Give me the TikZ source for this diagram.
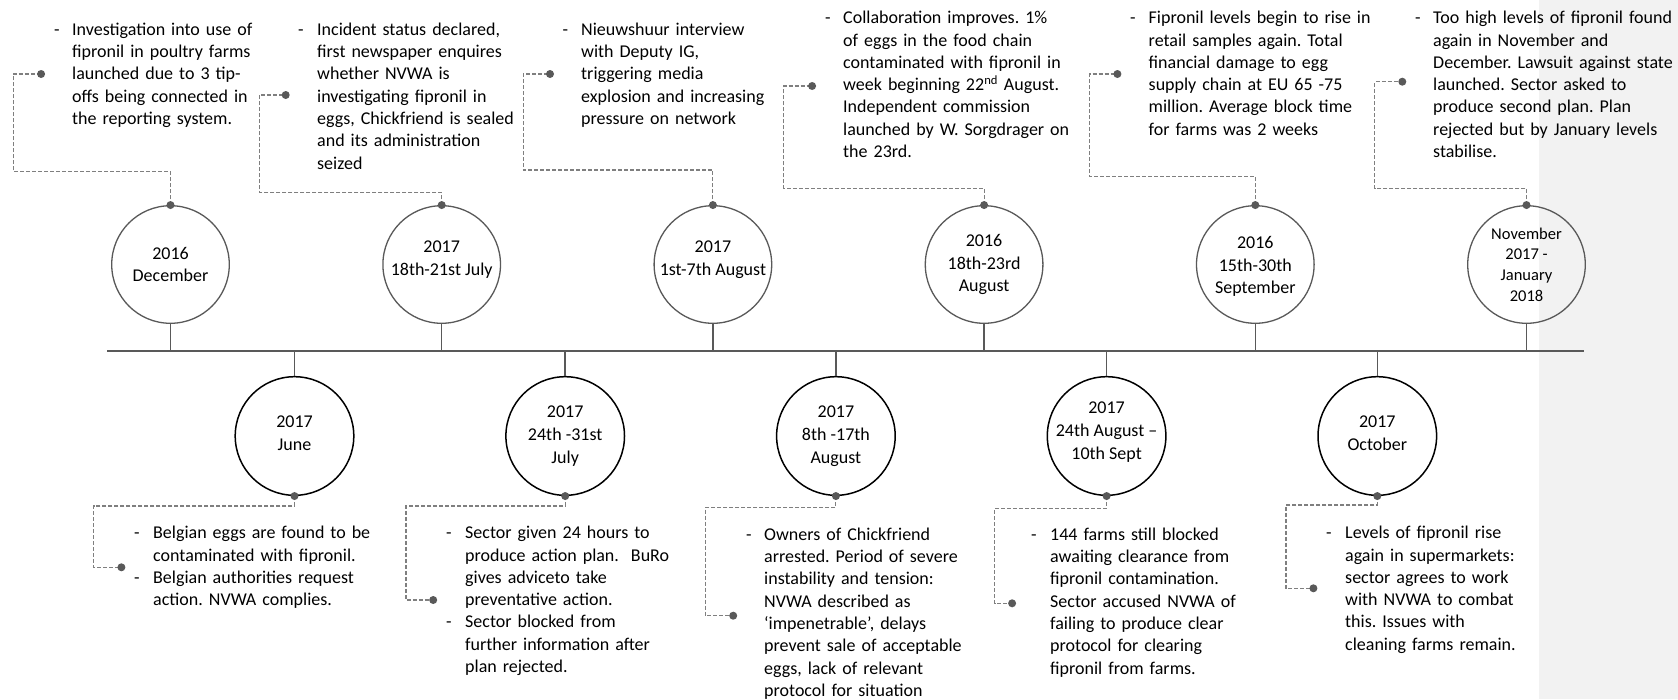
\documentclass[tikz,border=0pt]{standalone}
\usepackage{fontspec}
\setmainfont{Carlito}
\frenchspacing
\definecolor{linegray}{HTML}{595959}
\definecolor{dashgray}{HTML}{7F7F7F}
\definecolor{panelgray}{HTML}{F2F2F2}
\newcommand\firstlinestrut{\rule{0pt}{15pt}}
\tikzset{
  topcirc/.style={circle, draw=linegray, line width=1.3pt, minimum size=117.6pt, inner sep=0pt},
  botcirc/.style={circle, draw=black, line width=1.5pt, minimum size=118.6pt, inner sep=0pt},
  datetxt/.style={align=center, inner sep=0pt, font=\fontsize{18}{22.8}\selectfont},
  notetxt/.style={anchor=north west, align=left, text width=320pt, inner sep=0pt,
                  font=\fontsize{18}{22.3}\selectfont},
  dashmark/.style={anchor=base west, inner sep=0pt, font=\fontsize{18}{22.3}\selectfont},
  connector/.style={draw=dashgray, line width=1.1pt, dash pattern=on 4pt off 2pt},
  timeline/.style={draw=linegray, line width=2pt},
  stemline/.style={draw=linegray, line width=1.5pt},
  enddot/.style={fill=linegray}
}
\begin{document}
\begin{tikzpicture}[x=1pt,y=-1pt]
\useasboundingbox (0,0) rectangle (1678,699);
\fill[white] (0,0) rectangle (1678,699);
\fill[panelgray] (1539,0) rectangle (1678,699);

% main time axis
\coordinate (axL) at (107.3,350.7);
\coordinate (axR) at (1584.3,350.7);
\draw[timeline] (axL) -- (axR);

% events above the axis
\node[topcirc] (c1) at (170.5,264.5) {};
\node[topcirc] (c2) at (441.7,264.5) {};
\node[topcirc] (c3) at (712.9,264.5) {};
\node[topcirc] (c4) at (984.1,264.5) {};
\node[topcirc] (c5) at (1255.3,264.5) {};
\node[topcirc] (c6) at (1526.5,264.5) {};
\node[datetxt] (c1t) at (c1) {2016\\December};
\node[datetxt, yshift=5pt] (c2t) at (c2) {2017\\18th-21st July};
\node[datetxt, yshift=5pt] (c3t) at (c3) {2017\\1st-7th August};
\node[datetxt] (c4t) at (c4) {2016\\18th-23rd\\August};
\node[datetxt, yshift=-2pt] (c5t) at (c5) {2016\\15th-30th\\September};
\node[datetxt, font=\fontsize{16.5}{20.6}\selectfont] (c6t) at (c6) {November\\2017 -\\January\\2018};
\foreach \n in {1,...,6} \draw[stemline] (c\n.south) -- (c\n.south |- axL);

% events below the axis
\node[botcirc] (d1) at (294.5,436) {};
\node[botcirc] (d2) at (565.2,436) {};
\node[botcirc] (d3) at (835.9,436) {};
\node[botcirc] (d4) at (1106.6,436) {};
\node[botcirc] (d5) at (1377.3,436) {};
\node[datetxt, yshift=3pt] (d1t) at (d1) {2017\\June};
\node[datetxt] (d2t) at (d2) {2017\\24th -31st\\July};
\node[datetxt] (d3t) at (d3) {2017\\8th -17th\\August};
\node[datetxt, yshift=4pt] (d4t) at (d4) {2017\\24th August --\\10th Sept};
\node[datetxt, yshift=3pt] (d5t) at (d5) {2017\\October};
\foreach \n in {1,...,5} \draw[stemline] (d\n.north |- axL) -- (d\n.north);

% connector corners and free ends, upper notes
\coordinate (k1) at (13.2,171.7);   \coordinate (e1) at (41.1,74);
\coordinate (k2) at (259.6,192.3);  \coordinate (e2) at (285.7,95);
\coordinate (k3) at (523.2,170);    \coordinate (e3) at (550,74);
\coordinate (k4) at (783.9,188.3);  \coordinate (e4) at (812.1,86);
\coordinate (k5) at (1089.5,176.7); \coordinate (e5) at (1117.4,74);
\coordinate (k6) at (1374.8,188.3); \coordinate (e6) at (1402.3,81.7);
\foreach \n in {1,...,6} {
  \draw[connector] (c\n.north) |- (k\n) |- (e\n);
  \fill[enddot] (c\n.north) circle (4pt);
  \fill[enddot] (e\n) circle (4pt);
}

% connector corners and free ends, lower notes
\coordinate (m1) at (93.6,506);    \coordinate (f1) at (121.4,567.3);
\coordinate (m2) at (406,506);     \coordinate (f2) at (433.2,600);
\coordinate (m3) at (705.4,507.3); \coordinate (f3) at (733.2,615.7);
\coordinate (m4) at (994.6,508.3); \coordinate (f4) at (1012.1,603.3);
\coordinate (m5) at (1286,505);    \coordinate (f5) at (1313.4,588.3);
\foreach \n in {1,...,5} {
  \draw[connector] (d\n.south) |- (m\n) |- (f\n);
  \fill[enddot] (d\n.south) circle (4pt);
  \fill[enddot] (f\n) circle (4pt);
}

% upper notes
\node[dashmark] (t1d) at (54,35) {-};
\node[notetxt] (t1) at (72,20) {\firstlinestrut Investigation into use of\\fipronil in poultry farms\\launched due to 3 tip-\\offs being connected in\\the reporting system.};
\node[dashmark] (t2d) at (298,35) {-};
\node[notetxt] (t2) at (317,20) {\firstlinestrut Incident status declared,\\first newspaper enquires\\whether NVWA is\\investigating fipronil in\\eggs, Chickfriend is sealed\\and its administration\\seized};
\node[dashmark] (t3d) at (562.5,35) {-};
\node[notetxt] (t3) at (581,20) {\firstlinestrut Nieuwshuur interview\\with Deputy IG,\\triggering media\\explosion and increasing\\pressure on network};
\node[dashmark] (t4d) at (825,23.5) {-};
\node[notetxt] (t4) at (843,8.5) {\firstlinestrut Collaboration improves. 1\%\\of eggs in the food chain\\contaminated with fipronil in\\week beginning 22\textsuperscript{nd} August.\\Independent commission\\launched by W. Sorgdrager on\\the 23rd.};
\node[dashmark] (t5d) at (1130,23.5) {-};
\node[notetxt] (t5) at (1148.5,8.5) {\firstlinestrut Fipronil levels begin to rise in\\retail samples again. Total\\financial damage to egg\\supply chain at EU 65 -75\\million. Average block time\\for farms was 2 weeks};
\node[dashmark] (t6d) at (1415,23.5) {-};
\node[notetxt] (t6) at (1433,8.5) {\firstlinestrut Too high levels of fipronil found\\again in November and\\December. Lawsuit against state\\launched. Sector asked to\\produce second plan. Plan\\rejected but by January levels\\stabilise.};

% lower notes
\node[dashmark] (b1d) at (134,538.5) {-};
\node[notetxt] (b1) at (153,523.5) {\firstlinestrut Belgian eggs are found to be\\contaminated with fipronil.};
\node[dashmark] (b1e) at (134,583.1) {-};
\node[notetxt] (b1b) at (153,568.1) {\firstlinestrut Belgian authorities request\\action. NVWA complies.};
\node[dashmark] (b2d) at (446,538.5) {-};
\node[notetxt] (b2) at (465,523.5) {\firstlinestrut Sector given 24 hours to\\produce action plan.\ \ BuRo\\gives adviceto take\\preventative action.};
\node[dashmark] (b2e) at (446,627.7) {-};
\node[notetxt] (b2b) at (465,612.7) {\firstlinestrut Sector blocked from\\further information after\\plan rejected.};
\node[dashmark] (b3d) at (746,540) {-};
\node[notetxt] (b3) at (764,525) {\firstlinestrut Owners of Chickfriend\\arrested. Period of severe\\instability and tension:\\NVWA described as\\‘impenetrable’, delays\\prevent sale of acceptable\\eggs, lack of relevant\\protocol for situation};
\node[dashmark] (b4d) at (1031,540) {-};
\node[notetxt] (b4) at (1050,525) {\firstlinestrut 144 farms still blocked\\awaiting clearance from\\fipronil contamination.\\Sector accused NVWA of\\failing to produce clear\\protocol for clearing\\fipronil from farms.};
\node[dashmark] (b5d) at (1326,538.5) {-};
\node[notetxt] (b5) at (1345,523.5) {\firstlinestrut Levels of fipronil rise\\again in supermarkets:\\sector agrees to work\\with NVWA to combat\\this. Issues with\\cleaning farms remain.};
\end{tikzpicture}
\end{document}
